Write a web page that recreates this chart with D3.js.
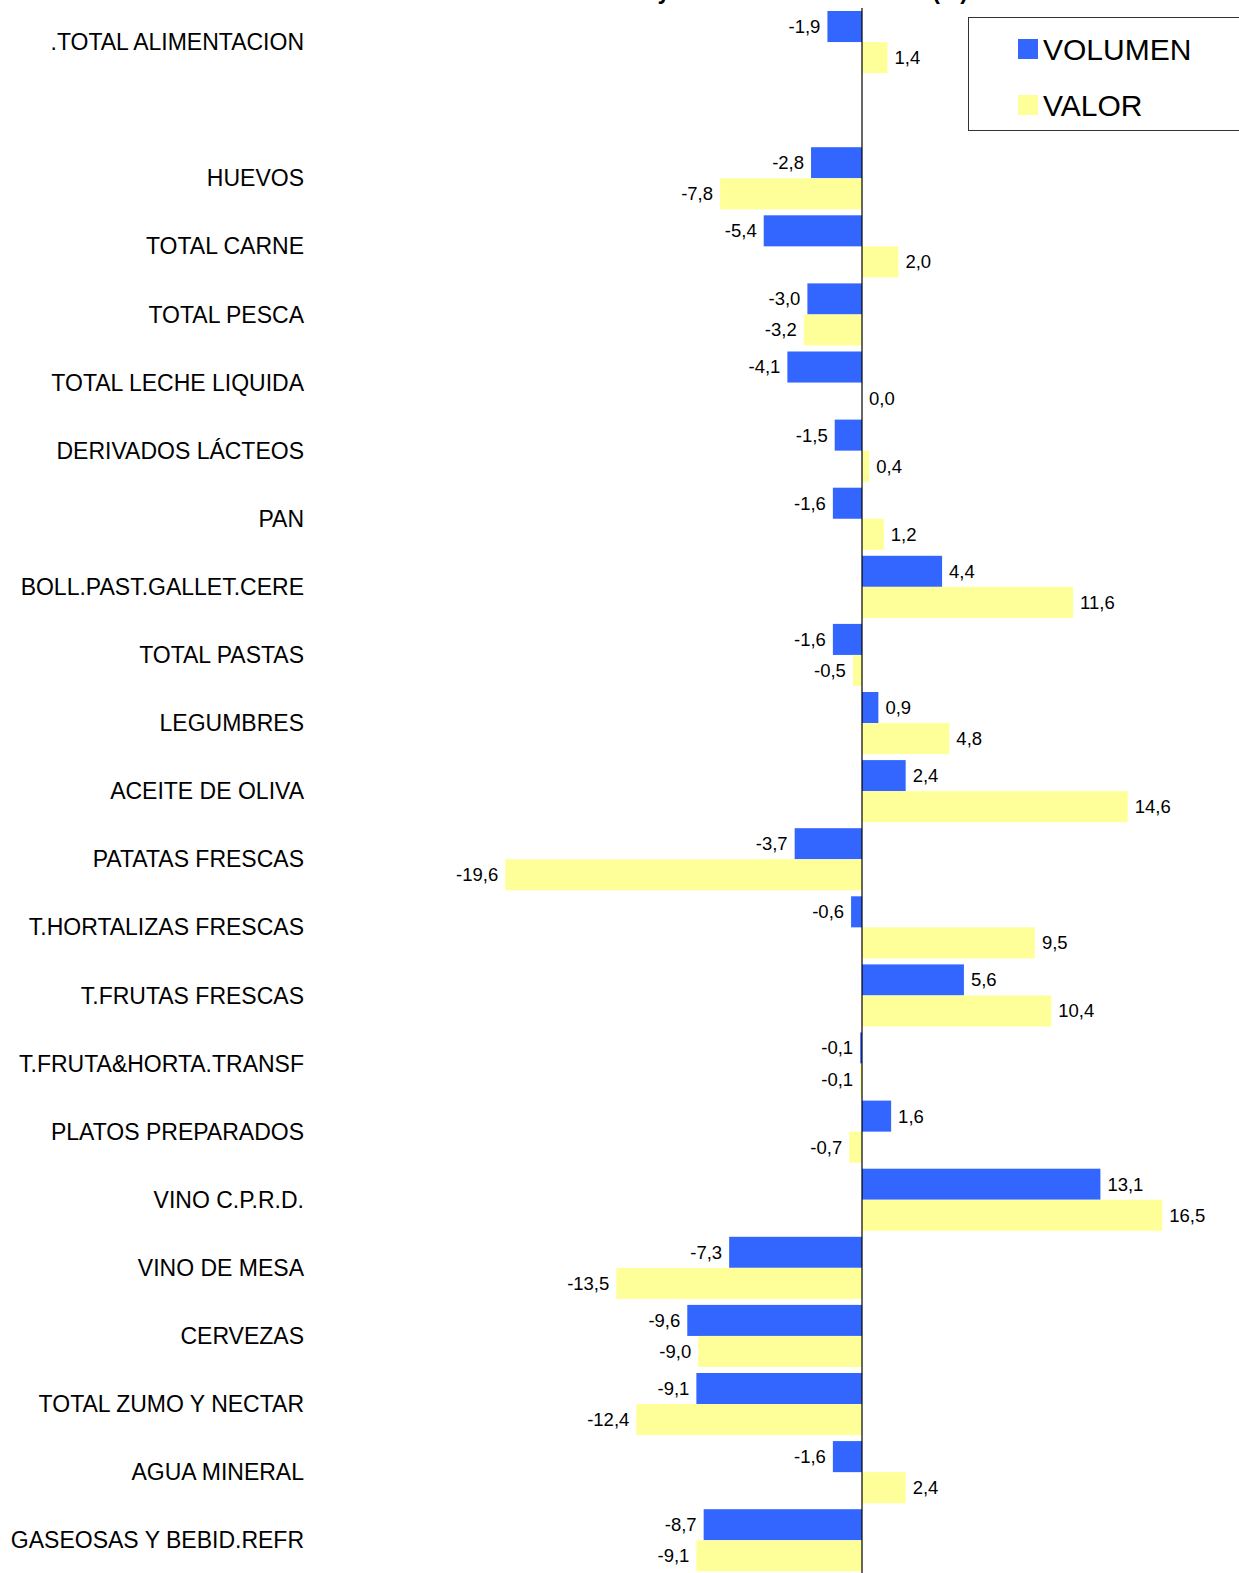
<!DOCTYPE html>
<html>
<head>
<meta charset="utf-8">
<script src="https://cdn.jsdelivr.net/npm/d3@7"></script>
<style>
  body { margin: 0; background: #fff; }
  svg { display: block; font-family: "Liberation Sans", Arial, sans-serif; }
  .cat { font-size: 23px; fill: #000; }
  .val { font-size: 18.5px; fill: #000; }
  .leg { font-size: 30px; fill: #000; }
</style>
</head>
<body>
<svg id="chart" width="1239" height="1573"></svg>
<script>
  // categories (the empty one is a blank slot in the original chart)
  var categories = [
    ".TOTAL ALIMENTACION", "", "HUEVOS", "TOTAL CARNE", "TOTAL PESCA",
    "TOTAL LECHE LIQUIDA", "DERIVADOS LÁCTEOS", "PAN", "BOLL.PAST.GALLET.CERE",
    "TOTAL PASTAS", "LEGUMBRES", "ACEITE DE OLIVA", "PATATAS FRESCAS",
    "T.HORTALIZAS FRESCAS", "T.FRUTAS FRESCAS", "T.FRUTA&HORTA.TRANSF",
    "PLATOS PREPARADOS", "VINO C.P.R.D.", "VINO DE MESA", "CERVEZAS",
    "TOTAL ZUMO Y NECTAR", "AGUA MINERAL", "GASEOSAS Y BEBID.REFR"
  ];
  var volumen = [-1.9, null, -2.8, -5.4, -3.0, -4.1, -1.5, -1.6, 4.4, -1.6, 0.9, 2.4,
                 -3.7, -0.6, 5.6, -0.1, 1.6, 13.1, -7.3, -9.6, -9.1, -1.6, -8.7];
  var valor   = [1.4, null, -7.8, 2.0, -3.2, 0.0, 0.4, 1.2, 11.6, -0.5, 4.8, 14.6,
                 -19.6, 9.5, 10.4, -0.1, -0.7, 16.5, -13.5, -9.0, -12.4, 2.4, -9.1];
  var seriesNames = ["VOLUMEN", "VALOR"];
  var colors = ["#3366FF", "#FFFF99"];

  var svg = d3.select("#chart");
  var keys = categories.map(function(c, i) { return i; });

  var y = d3.scaleBand().domain(keys).range([8, 8 + 23 * 68.1])
            .paddingInner(0.088).paddingOuter(0.044);
  var sub = d3.scaleBand().domain([0, 1]).range([0, y.bandwidth()]);
  var x = d3.scaleLinear().domain([-20, 20]).range([498, 1226]);

  var fmt = function(v) {
    return d3.format(".1f")(v).replace(".", ",").replace("\u2212", "-");
  };

  // title (mostly outside the visible area in the reference)
  svg.append("text")
     .attr("x", 968).attr("y", -1)
     .attr("text-anchor", "end")
     .style("font-size", "23px").style("font-weight", "bold")
     .text("Evolución del consumo en volumen y valor acumulado anual (%)");

  // category labels
  svg.selectAll(".cat").data(keys).enter().append("text")
     .attr("class", "cat")
     .attr("x", 304)
     .attr("y", function(i) { return y(i) + y.bandwidth() / 2; })
     .attr("dy", "0.35em")
     .attr("text-anchor", "end")
     .text(function(i) { return categories[i]; });

  [volumen, valor].forEach(function(arr, s) {
    var rows = keys.filter(function(i) { return arr[i] !== null; });
    var g = svg.append("g");
    g.selectAll("rect").data(rows).enter().append("rect")
     .attr("x", function(i) { return x(Math.min(0, arr[i])); })
     .attr("width", function(i) { return Math.abs(x(arr[i]) - x(0)); })
     .attr("y", function(i) { return y(i) + sub(s); })
     .attr("height", sub.bandwidth())
     .attr("fill", colors[s]);
    g.selectAll("text").data(rows).enter().append("text")
     .attr("class", "val")
     .attr("x", function(i) { return arr[i] < 0 ? x(arr[i]) - 7 : x(arr[i]) + 7; })
     .attr("y", function(i) { return y(i) + sub(s) + sub.bandwidth() / 2; })
     .attr("dy", "0.35em")
     .attr("text-anchor", function(i) { return arr[i] < 0 ? "end" : "start"; })
     .text(function(i) { return fmt(arr[i]); });
  });

  // zero axis
  svg.append("line")
     .attr("x1", x(0)).attr("x2", x(0))
     .attr("y1", 8).attr("y2", 1573)
     .attr("stroke", "#000").attr("stroke-width", 1.2);

  // legend
  var leg = svg.append("g");
  leg.append("rect").attr("x", 968.5).attr("y", 17.5).attr("width", 290).attr("height", 113)
     .attr("fill", "#fff").attr("stroke", "#333").attr("stroke-width", 1);
  seriesNames.forEach(function(n, i) {
    leg.append("rect").attr("x", 1018).attr("y", 39 + i * 56).attr("width", 20).attr("height", 20)
       .attr("fill", colors[i]);
    leg.append("text").attr("class", "leg")
       .attr("x", 1043).attr("y", 49 + i * 56).attr("dy", "0.35em")
       .text(n);
  });
</script>
</body>
</html>
